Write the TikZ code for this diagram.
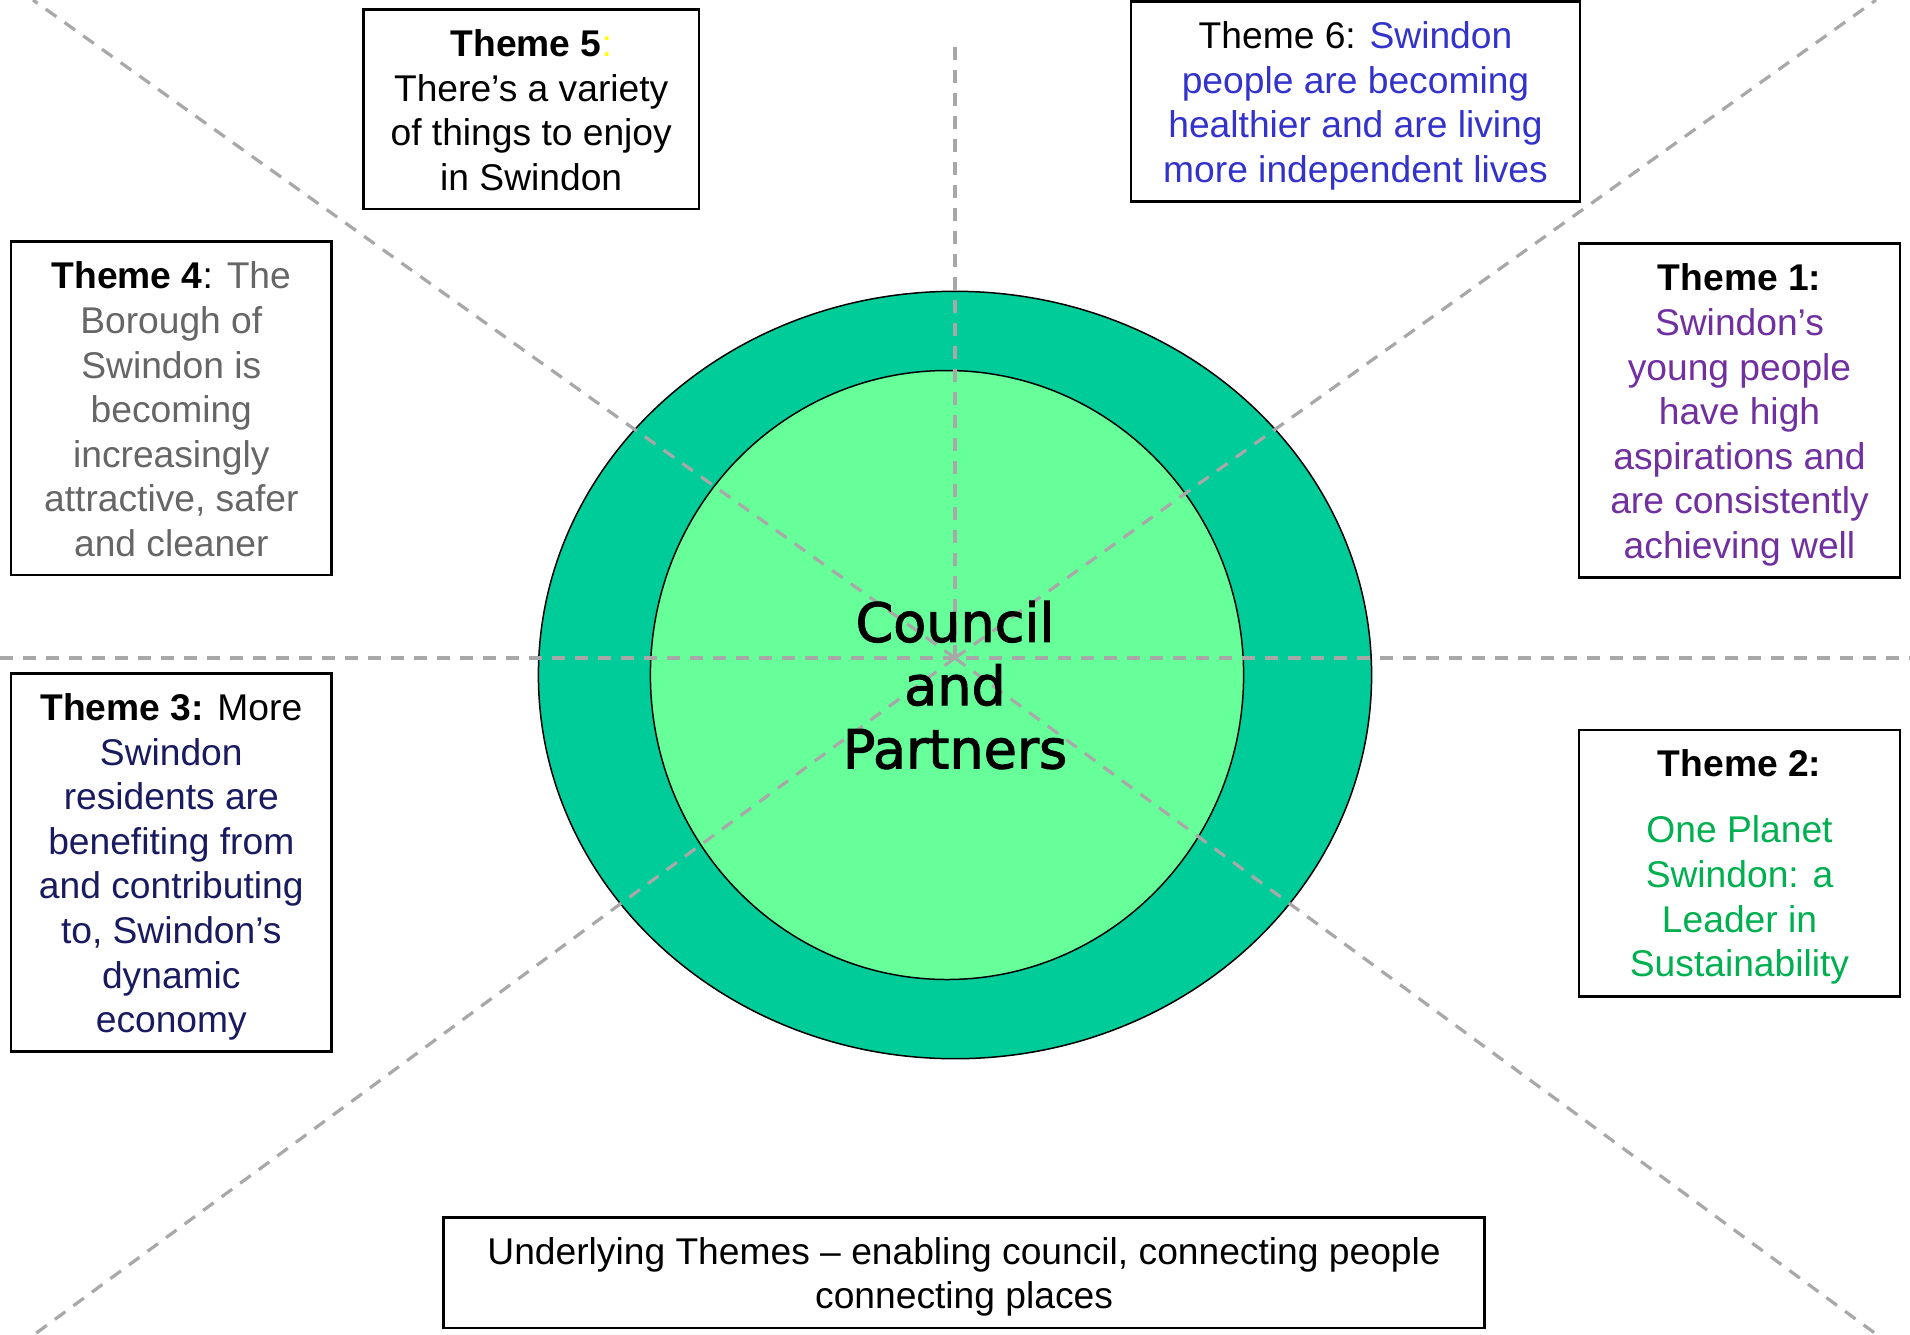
\documentclass[tikz,border=0pt]{standalone}
\usepackage{fontspec}
\setmainfont{Liberation Sans}
\newfontfamily\centrefont[FakeBold=2]{DejaVu Sans}
\usetikzlibrary{shapes.geometric}

\definecolor{ringgreen}{HTML}{00CC99}
\definecolor{coregreen}{HTML}{66FF99}
\definecolor{guidegrey}{HTML}{A8A8A8}
\definecolor{themeyellow}{HTML}{FFFF00}
\definecolor{themeblue}{HTML}{3333CC}
\definecolor{themegrey}{HTML}{666666}
\definecolor{themepurple}{HTML}{7030A0}
\definecolor{themenavy}{HTML}{1A1A60}
\definecolor{themegreen}{HTML}{00B050}

\begin{document}
\begin{tikzpicture}[x=1pt,y=-1pt,
  themebox/.style={draw=black, line width=2.5pt, fill=white, inner sep=0pt},
  themetext/.style={inner sep=0pt, align=center, font=\fontsize{37.2}{44.6}\selectfont},
  guide/.style={draw=guidegrey, line width=3.2pt, dash pattern=on 13pt off 10pt},
  disc/.style={ellipse, draw=black, line width=1.5pt, inner sep=0pt}]

\useasboundingbox (0,0) rectangle (1910,1334);
\fill[white] (0,0) rectangle (1910,1334);

% the two rings in the middle
\node[disc, fill=ringgreen, minimum width=833.2pt, minimum height=767.4pt] (outer) at (955,675) {};
\node[disc, fill=coregreen, minimum width=593.2pt, minimum height=609pt] (core) at (947,675) {};

% dashed guide lines radiating from the hub
\coordinate (hub) at (955,658);
\coordinate (topend) at (955,37);
\coordinate (leftend) at (0,658);
\coordinate (rightend) at (1910,658);
\coordinate (nw) at (33,0);
\coordinate (ne) at (1876,0);
\coordinate (sw) at (35,1334);
\coordinate (se) at (1876,1334);
\draw[guide] (hub) -- (topend);
\draw[guide] (leftend) -- (rightend);
\draw[guide] (hub) -- (nw);
\draw[guide] (hub) -- (ne);
\draw[guide] (hub) -- (sw);
\draw[guide] (hub) -- (se);

% theme boxes
\node[themebox, minimum width=335.7pt, minimum height=199.7pt] (t5) at (531.2,109.2) {};
\node[themebox, minimum width=449pt, minimum height=200pt] (t6) at (1355.5,101.7) {};
\node[themebox, minimum width=320.7pt, minimum height=333.3pt] (t4) at (171.3,408.3) {};
\node[themebox, minimum width=321pt, minimum height=334.4pt] (t1) at (1739.5,410.5) {};
\node[themebox, minimum width=320.7pt, minimum height=378.4pt] (t3) at (171.3,862.5) {};
\node[themebox, minimum width=321pt, minimum height=266.7pt] (t2) at (1739.5,863.3) {};
\node[themebox, minimum width=1041pt, minimum height=110.7pt] (under) at (964.1,1272.7) {};

% theme texts
\node[themetext] (t5text) at ([yshift=-1pt]t5.center)
  {\textbf{Theme 5}{\color{themeyellow}:}\\There’s a variety\\of things to enjoy\\in Swindon};

\node[themetext] (t6text) at ([yshift=-4pt]t6.center)
  {Theme 6: {\color{themeblue}Swindon}\\{\color{themeblue}people are becoming}\\{\color{themeblue}healthier and are living}\\{\color{themeblue}more independent lives}};

\node[themetext] (t4text) at ([yshift=-1pt]t4.center)
  {\textbf{Theme 4}: {\color{themegrey}The}\\{\color{themegrey}Borough of}\\{\color{themegrey}Swindon is}\\{\color{themegrey}becoming}\\{\color{themegrey}increasingly}\\{\color{themegrey}attractive, safer}\\{\color{themegrey}and cleaner}};

\node[themetext] (t1text) at ([yshift=-4.5pt]t1.center)
  {\textbf{Theme 1:}\\{\color{themepurple}Swindon’s}\\{\color{themepurple}young people}\\{\color{themepurple}have high}\\{\color{themepurple}aspirations and}\\{\color{themepurple}are consistently}\\{\color{themepurple}achieving well}};

\node[themetext] (t3text) at ([yshift=-4.5pt]t3.center)
  {\textbf{Theme 3:} More\\{\color{themenavy}Swindon}\\{\color{themenavy}residents are}\\{\color{themenavy}benefiting from}\\{\color{themenavy}and contributing}\\{\color{themenavy}to, Swindon’s}\\{\color{themenavy}dynamic}\\{\color{themenavy}economy}};

\node[themetext] (t2text) at ([yshift=-3.5pt]t2.center)
  {\textbf{Theme 2:}\\[22pt]{\color{themegreen}One Planet}\\{\color{themegreen}Swindon: a}\\{\color{themegreen}Leader in}\\{\color{themegreen}Sustainability}};

\node[themetext, font=\fontsize{37.2}{44}\selectfont] (undertext) at ([yshift=-4.5pt]under.center)
  {Underlying Themes – enabling council, connecting people\\connecting places};

% centre label
\node[align=center, inner sep=0pt, font=\centrefont\fontsize{54}{63.3}\selectfont] (centre) at (955,685)
  {Council\\and\\Partners};

\end{tikzpicture}
\end{document}
